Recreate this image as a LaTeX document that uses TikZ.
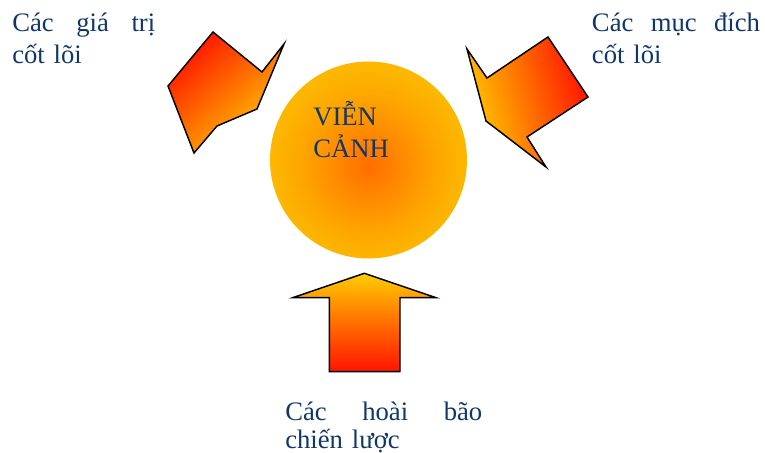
\documentclass[tikz,border=0pt]{standalone}
\usepackage{fontspec}
\setmainfont{Liberation Serif}
\definecolor{textblue}{RGB}{16,55,105}
\definecolor{arrowred}{RGB}{255,20,0}
\definecolor{arrowgold}{RGB}{255,204,0}
\definecolor{glowin}{RGB}{255,110,0}
\definecolor{glowmid}{RGB}{255,136,0}
\definecolor{glowsoft}{RGB}{254,165,0}
\definecolor{glowout}{RGB}{252,184,0}
\pgfdeclareradialshading{glow}{\pgfpoint{0bp}{-1.7bp}}{color(0bp)=(glowin); color(8bp)=(glowmid); color(17bp)=(glowsoft); color(25bp)=(glowout); color(50bp)=(glowout)}
\begin{document}
\begin{tikzpicture}[x=0.75pt, y=-0.75pt,
    label text/.style={text=textblue, inner sep=0pt, align=left, anchor=base west, font=\fontsize{20}{23.7}\selectfont},
    block arrow/.style={draw=black, line width=1.1pt, line join=miter}]
    \useasboundingbox (0,0) rectangle (765,453);

    % vien canh
    \node[circle, minimum size=147.75pt, inner sep=0pt, shading=glow] (vision) at (368.5,160) {};
    \node[text=textblue, inner sep=0pt, align=left, anchor=base west, font=\fontsize{20}{24.2}\selectfont] (visiontext) at (313,157.3) {VIỄN\\CẢNH};

    % cac mui ten
    \draw[block arrow, top color=arrowred, bottom color=arrowgold, shading angle=42]
        (213,32) -- (262,72) -- (284,44) -- (257,109) -- (217,126) -- (194,153) -- (168,86) -- cycle;
    \draw[block arrow, top color=arrowred, bottom color=arrowgold, shading angle=-75]
        (548,37) -- (588,97) -- (527,137) -- (546,167) -- (486,121) -- (467,49) -- (487,78) -- cycle;
    \draw[block arrow, top color=arrowgold, bottom color=arrowred]
        (364.3,273.3) -- (436,297.7) -- (400,297.7) -- (400,371.7) -- (329.3,371.7) -- (329.3,297.7) -- (292.7,297.7) -- cycle;

    % nhan
    \node[label text, text width=107.25pt] (values) at (12,31.7) {\makebox[107.25pt]{Các\hfill giá\hfill trị}\\cốt lõi};
    \node[label text, text width=126pt] (purposes) at (591.7,31.7) {\makebox[126pt]{Các\hfill mục\hfill đích}\\cốt lõi};
    \node[label text, text width=147.75pt, font=\fontsize{20}{21}\selectfont] (ambitions) at (285,420.3) {\makebox[147.75pt]{Các\hfill hoài\hfill bão}\\chiến lược};
\end{tikzpicture}
\end{document}
